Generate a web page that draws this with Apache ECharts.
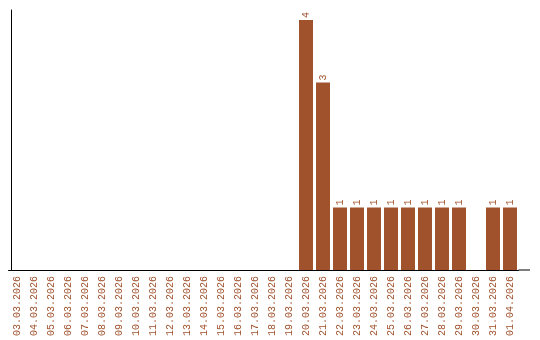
<!DOCTYPE html>
<html><head><meta charset="utf-8">
<script src="https://cdn.jsdelivr.net/npm/echarts@6/dist/echarts.min.js"></script>
<style>html,body{margin:0;padding:0;background:#fff}#c{width:540px;height:340px}</style>
</head><body><div id="c"></div>
<script>
const categories = ["03.03.2026","04.03.2026","05.03.2026","06.03.2026","07.03.2026","08.03.2026","09.03.2026","10.03.2026","11.03.2026","12.03.2026","13.03.2026","14.03.2026","15.03.2026","16.03.2026","17.03.2026","18.03.2026","19.03.2026","20.03.2026","21.03.2026","22.03.2026","23.03.2026","24.03.2026","25.03.2026","26.03.2026","27.03.2026","28.03.2026","29.03.2026","30.03.2026","31.03.2026","01.04.2026"];
const values = [null,null,null,null,null,null,null,null,null,null,null,null,null,null,null,null,null,4,3,1,1,1,1,1,1,1,1,null,1,1];

const color = '#A0522D';
const chart = echarts.init(document.getElementById('c'), null, {renderer:'canvas'});
chart.setOption({
  animation: false,
  grid: {left: 8.5, top: 10, width: 510, height: 260, containLabel: false},
  xAxis: {
    type: 'category', data: categories, boundaryGap: true,
    axisLine: {show: true, lineStyle: {color: '#000', width: 1}},
    axisTick: {show: false},
    axisLabel: {rotate: 90, interval: 0, margin: 6, color: color, fontFamily: 'Liberation Mono', fontSize: 10}
  },
  yAxis: {
    type: 'value', min: 0, max: 4.16, offset: -2.5,
    axisLine: {show: true, lineStyle: {color: '#000', width: 1}},
    axisTick: {show: false}, axisLabel: {show: false}, splitLine: {show: false}
  },
  series: [{
    type: 'bar', data: values, barWidth: 14,
    itemStyle: {color: color},
    label: {show: true, position: 'top', rotate: 90, align: 'left', verticalAlign: 'middle', distance: 2,
      color: color, fontFamily: 'Liberation Mono', fontSize: 10}
  }],
  graphic: [{type: 'line', shape: {x1: 518.5, y1: 270, x2: 530, y2: 270}, style: {stroke: '#000', lineWidth: 1}}]
});
</script></body></html>
